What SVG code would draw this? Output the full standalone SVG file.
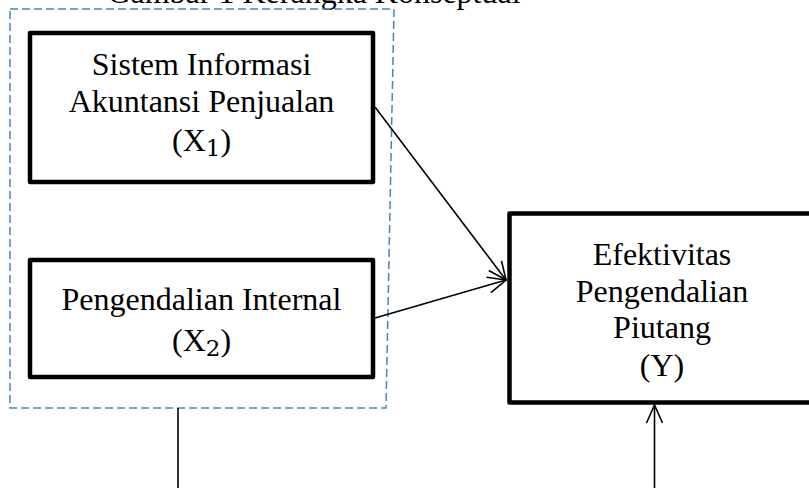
<svg xmlns="http://www.w3.org/2000/svg" width="809" height="488" viewBox="0 0 809 488">
<style>
text{font-family:"Liberation Serif","Times New Roman",serif;font-size:32px;fill:#000;text-anchor:middle}
.sub{font-size:23px;font-family:"DejaVu Serif","Liberation Serif",serif}
.box{fill:#fff;stroke:#000;stroke-width:4.5;stroke-linejoin:round}
.conn{fill:none;stroke:#000;stroke-width:1.6}
.dash{fill:none;stroke:#4F81BD;stroke-width:1.5;stroke-dasharray:8 4}
</style>
<defs>
<marker id="open" viewBox="-20 -10 22 20" refX="0" refY="0" markerWidth="22" markerHeight="20" markerUnits="userSpaceOnUse" orient="auto">
<path d="M-18,-8 L0,0 L-18,8" fill="none" stroke="#000" stroke-width="1.6"/>
</marker>
</defs>
<rect width="809" height="488" fill="#fff"/>
<text x="314" y="3">Gambar 1 Kerangka Konseptual</text>
<g id="group-x">
<path class="dash" d="M10,9 L394,9 L386,408 L10,408 Z"/>
</g>
<g id="x1">
<rect class="box" x="30" y="33" width="343" height="149"/>
<text x="201.5" y="75">Sistem Informasi</text>
<text x="201.5" y="112">Akuntansi Penjualan</text>
<text x="201.5" y="151">(X<tspan class="sub" dy="5">1</tspan><tspan dy="-5">)</tspan></text>
</g>
<g id="x2">
<rect class="box" x="30" y="260" width="343" height="117"/>
<text x="201.5" y="310">Pengendalian Internal</text>
<text x="201.5" y="351">(X<tspan class="sub" dy="5">2</tspan><tspan dy="-5">)</tspan></text>
</g>
<g id="y">
<rect class="box" x="509.5" y="213.5" width="360" height="189"/>
<text x="662" y="265">Efektivitas</text>
<text x="662" y="302">Pengendalian</text>
<text x="662" y="338">Piutang</text>
<text x="662" y="376">(Y)</text>
</g>
<g id="connectors">
<line class="conn" x1="375" y1="107" x2="506" y2="280" marker-end="url(#open)"/>
<line class="conn" x1="375" y1="318" x2="506" y2="280" marker-end="url(#open)"/>
<line class="conn" x1="178" y1="408" x2="178" y2="488"/>
<line class="conn" x1="654.5" y1="488" x2="654.5" y2="405" marker-end="url(#open)"/>
</g>
</svg>
